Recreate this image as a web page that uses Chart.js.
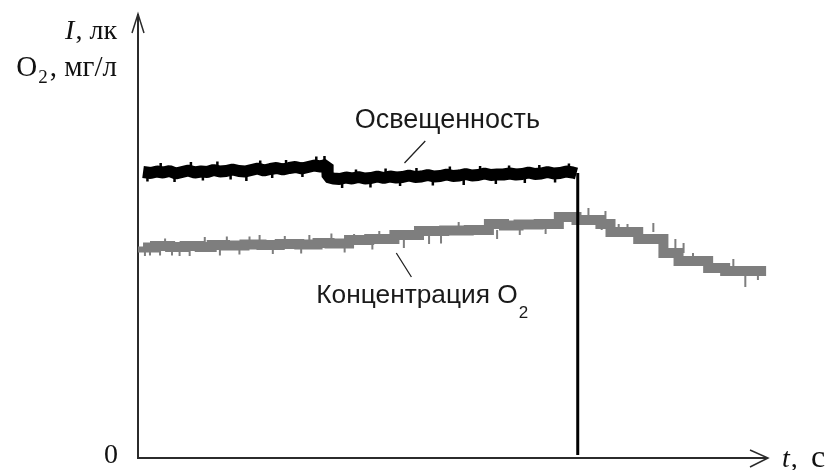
<!DOCTYPE html>
<html>
<head>
<meta charset="utf-8">
<script src="https://cdn.jsdelivr.net/npm/chart.js@4.4.1/dist/chart.umd.min.js"></script>
<style>
  html, body { margin: 0; padding: 0; background: #fff; }
  #wrap { width: 830px; height: 470px; }
</style>
</head>
<body>
<div id="wrap"><canvas id="c" width="830" height="470"></canvas></div>
<script>
// ---- Освещенность (black trace) ----
const lightT = [0.8,2,3,4,5,6,7,8,9,10,11,12,13,14,15,16,17,18,19,20,21,22,23,24,25,26,27,28,29,30,
  30.1,31,32,33,34,35,36,37,38,39,40,41,42,43,44,45,46,47,48,49,50,51,52,53,54,55,56,57,58,59,60,
  61,62,63,64,65,66,67,68,69,69.6];
const lightV = [57.2,57.0,57.3,57.1,57.4,56.9,57.2,57.5,57.1,57.3,57.2,57.6,57.3,57.4,57.7,57.4,57.3,57.6,57.9,57.5,
  57.8,58.0,57.7,58.0,58.2,57.9,58.2,58.5,58.3,58.7,
  56.2,55.9,55.8,56.1,55.9,56.2,55.9,56.0,56.3,56.0,56.3,56.1,56.2,56.5,56.2,56.3,56.6,56.3,56.4,56.7,
  56.4,56.5,56.8,56.5,56.6,56.9,56.6,56.7,56.7,56.9,56.7,56.8,57.1,56.8,56.9,57.2,56.9,57.0,57.3,57.1,56.9];
// short excursions of the illumination signal
const lightSpikeT  = [1.5,3.6,5.8,8.4,10.3,12.6,14.7,17.2,19.4,21.3,23.5,26.1,28.3,29.6,
  32.4,34.6,36.9,39.3,41.6,44.2,46.8,49.5,51.7,54.3,56.8,58.9,61.4,63.7,66.2,68.4];
const lightSpikeLo = [55.3,57.3,55.2,57.5,55.5,57.6,55.7,55.4,57.8,56.0,57.9,56.2,58.4,58.5,
  54.0,56.0,54.1,56.1,54.4,56.2,54.5,56.6,54.6,56.6,54.8,56.8,55.0,56.8,55.1,57.1];
const lightSpikeHi = [57.1,59.0,57.1,59.2,57.4,59.3,57.5,57.3,59.5,57.9,59.6,58.0,60.3,60.4,
  55.9,57.7,56.0,57.9,56.2,58.0,56.4,58.3,56.5,58.4,56.7,58.5,56.8,58.6,57.0,58.9];
// switch-off drop of illumination
const dropT = [69.8, 69.8];
const dropV = [57.0, 0.6];

// ---- Концентрация O2 (grey quantized trace) ----
const o2T = [0.8,2.7,5.1,7.4,9.8,11.7,13.8,16.9,19.6,22.5,25.6,28.5,30.4,33.5,36.7,40.7,44.6,48.6,52.5,55.7,
  58.1,60.4,63.6,66.8,69.6,73.4,75.0,79.4,83.4,85.8,90.5,93.2,96.0,99.7];
const o2V = [42.3,42.1,42.4,42.2,42.4,42.2,42.6,42.5,42.7,42.6,42.8,42.7,43.0,42.9,43.6,43.8,44.6,45.4,45.5,45.6,
  46.8,46.5,46.7,46.8,48.2,47.6,46.8,45.2,43.8,41.0,39.4,38.0,37.4,37.4];
// single-sample spikes of the O2 signal
const spikeT  = [1.1,1.9,3.5,4.3,5.4,6.6,8.2,10.6,13.0,14.1,16.1,17.7,19.3,21.4,23.3,25.9,27.2,30.7,32.8,34.3,
  37.2,38.3,40.9,42.2,44.1,46.2,48.1,50.9,55.7,57.0,60.6,64.7,67.0,71.5,73.6,74.2,76.3,77.7,79.7,81.8,
  85.3,86.6,88.1,90.8,94.5,96.4,98.4];
const spikeLo = [40.4,40.5,40.5,42.1,40.5,40.4,40.4,42.4,40.5,42.6,40.7,42.5,42.7,40.8,42.6,40.9,42.8,43.0,41.1,42.9,
  41.7,43.6,43.8,42.0,43.8,42.8,42.9,45.4,45.5,43.8,44.6,44.8,46.8,48.2,45.6,47.6,45.0,44.9,43.4,45.2,
  41.9,41.0,39.2,37.5,38.0,34.2,35.6];
const spikeHi = [42.3,42.3,42.1,43.9,42.4,42.4,42.2,44.2,42.2,44.3,42.6,44.3,44.6,42.7,44.4,42.8,44.6,44.9,43.0,44.8,
  43.6,45.4,45.6,43.8,45.8,44.6,44.6,47.2,47.4,45.6,46.5,46.7,48.6,50.0,47.6,49.4,46.8,46.8,45.2,47.0,
  43.8,43.0,41.0,39.4,39.8,37.4,37.4];

// ---- annotation anchors (data units) ----
const lightLabel = { text: 'Освещенность', t: 34.4, v: 66.0, lineFrom: [45.6, 63.4], lineTo: [42.3, 59.0] };
const o2Label = { text: 'Концентрация O', sub: '2', t: 28.3, v: 31.0, lineFrom: [41.0, 41.0], lineTo: [43.4, 36.2] };

const zip = (t, v) => t.map((x, i) => ({ x, y: v[i] }));
const segs = (t, lo, hi) => {
  const out = [];
  t.forEach((x, i) => { out.push({ x, y: lo[i] }, { x, y: hi[i] }, { x, y: null }); });
  return out;
};

const decor = {
  id: 'decor',
  beforeDatasetsDraw(chart) {
    const { ctx, chartArea: a } = chart;
    const x0 = chart.scales.x.getPixelForValue(0);
    const y0 = chart.scales.y.getPixelForValue(0);
    ctx.save();
    ctx.strokeStyle = '#2b2b2b';
    ctx.lineWidth = 2;
    ctx.beginPath();
    ctx.moveTo(x0, a.top + 1); ctx.lineTo(x0, y0); ctx.lineTo(a.right - 1, y0);
    ctx.stroke();
    ctx.lineWidth = 1.5;
    ctx.beginPath();
    ctx.moveTo(x0 - 6, a.top + 20); ctx.lineTo(x0, a.top + 1); ctx.lineTo(x0 + 6, a.top + 20);
    ctx.moveTo(a.right - 18, y0 - 8); ctx.lineTo(a.right, y0); ctx.lineTo(a.right - 18, y0 + 9);
    ctx.stroke();
    ctx.restore();
  },
  afterDraw(chart) {
    const { ctx, chartArea: a } = chart;
    const xs = chart.scales.x, ys = chart.scales.y;
    const x0 = xs.getPixelForValue(0), y0 = ys.getPixelForValue(0);
    ctx.save();
    ctx.fillStyle = '#111';
    ctx.textBaseline = 'alphabetic';
    // y-axis title
    const serif = '"Liberation Serif", "Times New Roman", serif';
    const rightX = x0 - 21;
    ctx.font = '28px ' + serif;
    ctx.textAlign = 'right';
    ctx.fillText(', лк', rightX, a.top + 26);
    const w1 = ctx.measureText(', лк').width;
    ctx.font = 'italic 28px ' + serif;
    ctx.fillText('I', rightX - w1 - 1, a.top + 26);
    ctx.font = '29px ' + serif;
    ctx.fillText(', мг/л', rightX, a.top + 63);
    const w2 = ctx.measureText(', мг/л').width;
    ctx.font = '19px ' + serif;
    ctx.fillText('2', rightX - w2 - 2, a.top + 70);
    const w3 = ctx.measureText('2').width;
    ctx.font = '29px ' + serif;
    ctx.fillText('O', rightX - w2 - w3 - 3, a.top + 63);
    // zero
    ctx.font = '28px ' + serif;
    ctx.fillText('0', x0 - 20, y0 + 5);
    // x-axis title
    ctx.textAlign = 'left';
    ctx.font = 'italic 28px ' + serif;
    ctx.fillText('t', a.right + 14, y0 + 9);
    const wt = ctx.measureText('t').width;
    ctx.font = '28px ' + serif;
    ctx.fillText(',', a.right + 14 + wt + 1, y0 + 9);
    ctx.font = '32px ' + serif;
    ctx.fillText('с', a.right + 43, y0 + 9);

    // annotations
    const sans = '"Liberation Sans", Arial, sans-serif';
    ctx.fillStyle = '#1a1a1a';
    ctx.font = '27px ' + sans;
    ctx.fillText(lightLabel.text, xs.getPixelForValue(lightLabel.t), ys.getPixelForValue(lightLabel.v));
    ctx.font = '26.3px ' + sans;
    const ox = xs.getPixelForValue(o2Label.t), oy = ys.getPixelForValue(o2Label.v);
    ctx.fillText(o2Label.text, ox, oy);
    const wo = ctx.measureText(o2Label.text).width;
    ctx.font = '17px ' + sans;
    ctx.fillText(o2Label.sub, ox + wo + 1, oy + 15);
    ctx.strokeStyle = '#222';
    ctx.lineWidth = 1.3;
    ctx.beginPath();
    for (const L of [lightLabel, o2Label]) {
      ctx.moveTo(xs.getPixelForValue(L.lineFrom[0]), ys.getPixelForValue(L.lineFrom[1]));
      ctx.lineTo(xs.getPixelForValue(L.lineTo[0]), ys.getPixelForValue(L.lineTo[1]));
    }
    ctx.stroke();
    ctx.restore();
  }
};

new Chart(document.getElementById('c'), {
  type: 'line',
  data: {
    datasets: [
      { label: 'Освещенность', data: zip(lightT, lightV), borderColor: '#000', borderWidth: 12, tension: 0, order: 0, borderJoinStyle: 'bevel', borderCapStyle: 'butt' },
      { label: 'light spikes', data: segs(lightSpikeT, lightSpikeLo, lightSpikeHi), borderColor: '#000', borderWidth: 2.5, spanGaps: false, order: 1 },
      { label: 'drop', data: zip(dropT, dropV), borderColor: '#000', borderWidth: 3, order: 2 },
      { label: 'Концентрация O2', data: zip(o2T, o2V), borderColor: '#7e7e7e', borderWidth: 10, stepped: 'after', order: 3, borderCapStyle: 'butt' },
      { label: 'O2 spikes', data: segs(spikeT, spikeLo, spikeHi), borderColor: '#7e7e7e', borderWidth: 2, spanGaps: false, order: 4 }
    ]
  },
  options: {
    responsive: false,
    animation: false,
    devicePixelRatio: 1,
    layout: { padding: { left: 138, right: 62, top: 13, bottom: 12 } },
    scales: {
      x: { type: 'linear', min: 0, max: 100, display: false },
      y: { type: 'linear', min: 0, max: 89, display: false }
    },
    elements: { point: { radius: 0 } },
    plugins: { legend: { display: false }, tooltip: { enabled: false } }
  },
  plugins: [decor]
});
</script>
</body>
</html>
